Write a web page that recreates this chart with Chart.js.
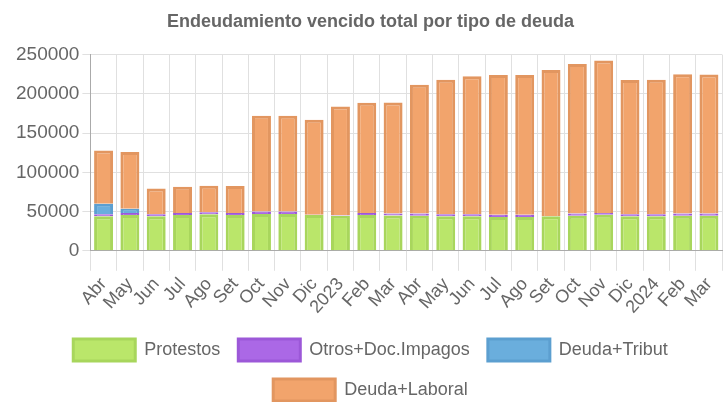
<!DOCTYPE html>
<html>
<head>
<meta charset="utf-8">
<script src="https://cdn.jsdelivr.net/npm/chart.js@4"></script>
<style>
  html, body { margin: 0; padding: 0; background: #fff; overflow: hidden; }
  #outer { width: 728px; height: 402px; overflow: hidden; }
  #wrap { width: 728px; height: 411px; }
</style>
</head>
<body>
<div id="outer"><div id="wrap"><canvas id="chart-1"></canvas></div></div>
<script>
// meses (abr 2022 - mar 2024)
const meses = ['Abr', 'May', 'Jun', 'Jul', 'Ago', 'Set', 'Oct', 'Nov', 'Dic', '2023', 'Feb', 'Mar',
               'Abr', 'May', 'Jun', 'Jul', 'Ago', 'Set', 'Oct', 'Nov', 'Dic', '2024', 'Feb', 'Mar'];

const protestos = [44000, 45500, 44000, 45500, 46500, 45500, 47000, 47000, 45500, 44800, 45500, 45000,
                   44800, 44000, 44000, 43200, 43200, 44000, 44800, 45800, 44000, 44000, 44800, 44800];
const otrosImpagos = [2500, 2700, 2500, 2500, 2600, 2700, 3000, 3000, 500, 500, 2700, 2400,
                      2600, 2500, 2500, 2600, 2600, 300, 2600, 2500, 2500, 2500, 2600, 2600];
const deudaTribut = [13500, 5500, 0, 0, 0, 0, 0, 0, 0, 0, 0, 0,
                     0, 0, 0, 0, 0, 0, 0, 0, 0, 0, 0, 0];
const deudaLaboral = [67800, 72300, 33000, 33500, 33900, 34300, 122000, 122000, 121000, 138700, 140300, 141600,
                      164100, 171500, 176000, 178200, 178200, 186200, 190600, 194200, 171000, 171500, 177600, 177100];

Chart.defaults.font.family = "'Liberation Sans', Arial, sans-serif";
Chart.defaults.color = '#666';

const ctx1 = document.getElementById('chart-1').getContext('2d');

const myChart1 = new Chart(ctx1, {
    type: 'bar',
    data: {
        labels: meses,
        datasets: [
            {
                label: 'Protestos',
                data: protestos,
                backgroundColor: '#bae66a',
                borderColor: '#a8d65c',
                borderWidth: 3
            },
            {
                label: 'Otros+Doc.Impagos',
                data: otrosImpagos,
                backgroundColor: '#ab68e6',
                borderColor: '#9c58d8',
                borderWidth: 3
            },
            {
                label: 'Deuda+Tribut',
                data: deudaTribut,
                backgroundColor: '#6aaedd',
                borderColor: '#5c9fd0',
                borderWidth: 3
            },
            {
                label: 'Deuda+Laboral',
                data: deudaLaboral,
                backgroundColor: '#f2a46c',
                borderColor: '#e29660',
                borderWidth: 3
            }
        ]
    },
    options: {
        responsive: true,
        maintainAspectRatio: false,
        animation: false,
        layout: { padding: { left: 13, right: 0, top: 0, bottom: 0 } },
        plugins: {
            title: {
                display: true,
                text: 'Endeudamiento vencido total por tipo de deuda',
                font: { size: 18, weight: 'bold' },
                color: '#666',
                padding: { top: 11, bottom: 22 }
            },
            legend: {
                position: 'bottom',
                labels: {
                    boxWidth: 62,
                    boxHeight: 22,
                    font: { size: 18 },
                    padding: 18
                }
            },
            tooltip: { enabled: false }
        },
        scales: {
            x: {
                stacked: true,
                ticks: {
                    font: { size: 18 },
                    maxRotation: 48,
                    minRotation: 48,
                    autoSkip: false
                },
                grid: { color: '#e0e0e0', tickLength: 20 },
                border: { color: '#aaa' }
            },
            y: {
                stacked: true,
                beginAtZero: true,
                max: 250000,
                ticks: {
                    stepSize: 50000,
                    font: { size: 19 },
                    callback: v => String(v)
                },
                grid: { color: '#e0e0e0' },
                border: { color: '#aaa' }
            }
        }
    }
});
</script>
</body>
</html>
